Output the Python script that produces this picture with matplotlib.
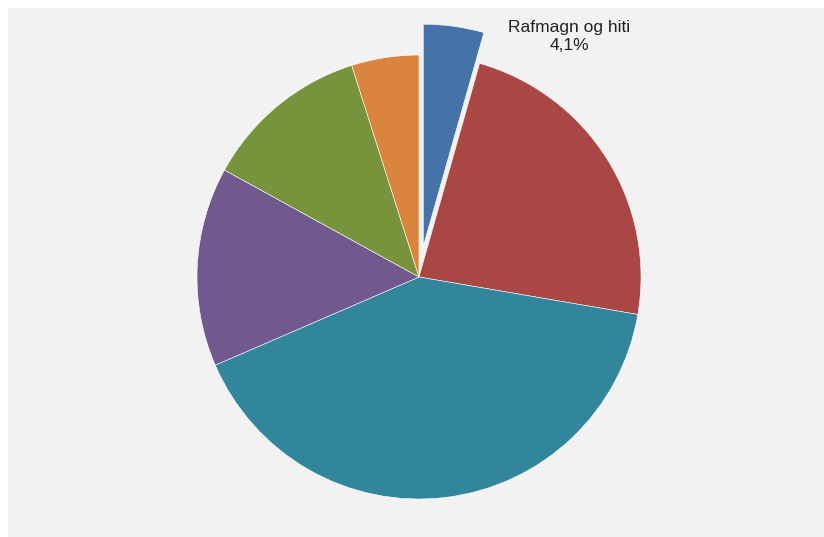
import matplotlib.pyplot as plt
from matplotlib.patches import Rectangle

labels = ['Rafmagn og hiti', 'B', 'C', 'D', 'E', 'F']
shares = [4.4, 23.3, 40.8, 14.5, 12.1, 4.9]
label_pct = '4,1%'
colors = ['#4572a7', '#aa4643', '#31869b', '#71588f', '#77933c', '#db843d']
explode = [0.14, 0, 0, 0, 0, 0]

W, H = 824, 537
fig = plt.figure(figsize=(W / 100, H / 100), dpi=100)
fig.patch.set_facecolor('white')
fig.patches.append(Rectangle((8 / W, 0), 1, 1 - 8 / H, transform=fig.transFigure,
                             facecolor='#f2f2f2', edgecolor='none', zorder=-10))

cx, cy, r = 419, 277, 222
ax = fig.add_axes([(cx - r) / W, (H - cy - r) / H, 2 * r / W, 2 * r / H])

ax.pie(shares, colors=colors, explode=explode, startangle=90, counterclock=False,
       radius=1, wedgeprops=dict(edgecolor='white', linewidth=0.4))
ax.set_xlim(-1, 1)
ax.set_ylim(-1, 1)
ax.axis('off')

ax.text(0.676, 1.085, f'{labels[0]}\n{label_pct}',
        ha='center', va='center', fontsize=12.5, family=['Liberation Sans', 'DejaVu Sans'],
        color='#222222', linespacing=1.25, clip_on=False)

fig.savefig('out.png', dpi=100)
